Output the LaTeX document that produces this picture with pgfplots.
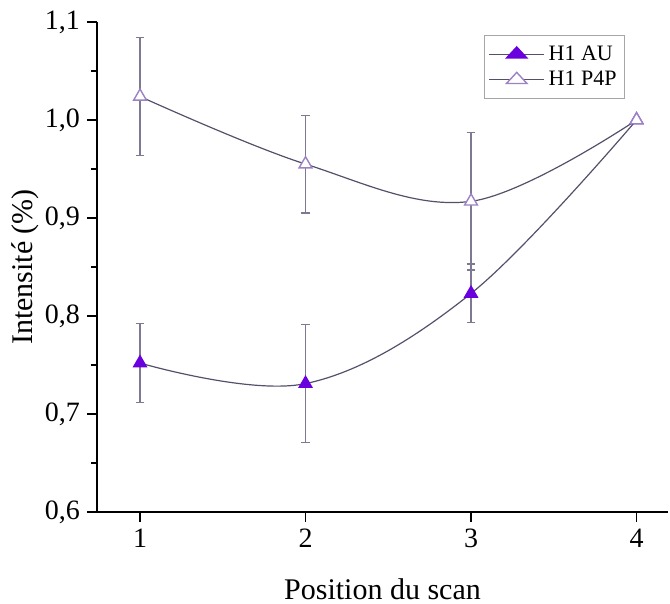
\documentclass[border=0pt]{standalone}
\usepackage{pgfplots}
\pgfplotsset{compat=1.18}
\usepackage{fontspec}
\setmainfont{Liberation Serif}
\definecolor{aucol}{HTML}{6A00DD}
\definecolor{p4pcol}{HTML}{9C82C4}
\definecolor{linecol}{HTML}{55506A}
\definecolor{errcol}{HTML}{7E7892}
\begin{document}
\begin{tikzpicture}
\begin{axis}[
  scale only axis,
  width=285.5pt, height=245pt,
  xmin=0.74, xmax=4.19,
  ymin=0.6, ymax=1.1,
  axis x line*=bottom, axis y line*=left,
  axis line style={line width=0.9pt, -},
  xtick={1,2,3,4},
  ytick={0.6,0.7,0.8,0.9,1.0,1.1},
  yticklabels={{0,6},{0,7},{0,8},{0,9},{1,0},{1,1}},
  minor ytick={0.65,0.75,0.85,0.95,1.05},
  tick align=outside,
  major tick length=5pt, minor tick length=3pt,
  tick style={line width=0.9pt, black},
  /pgf/number format/assume math mode=true,
  tick label style={font=\fontsize{14}{16}\selectfont},
  xlabel={Position du scan},
  ylabel={Intensité (\%)},
  label style={font=\fontsize{15}{18}\selectfont},
  xlabel style={yshift=-8.5pt},
  ylabel style={yshift=-4pt},
  legend style={at={(0.9247,0.9735)}, anchor=north east, draw=gray!70, line width=0.5pt,
    font=\fontsize{11}{13}\selectfont, row sep=0pt, inner xsep=2pt, inner ysep=3pt},
  legend cell align=left,
  legend image post style={xscale=1.6},
]
\coordinate (O) at (rel axis cs:0,0);
\addplot[color=linecol, line width=0.6pt, smooth, tension=0.6,
  mark=triangle*, mark size=3.7pt, mark options={solid, fill=aucol, draw=aucol},
  error bars/.cd, y dir=both, y explicit,
  error bar style={color=errcol, line width=0.6pt},
  error mark options={rotate=90, mark size=2.2pt, color=errcol, line width=0.6pt}]
  table[x=x, y=y, y error=e] {
x y e
1 0.752 0.040
2 0.731 0.060
3 0.823 0.030
4 1.000 0.000
};
\addlegendentry{H1 AU}
\addplot[color=linecol, line width=0.6pt, smooth, tension=0.6,
  mark=triangle*, mark size=3.7pt, mark options={solid, fill=white, draw=p4pcol, line width=0.7pt},
  error bars/.cd, y dir=both, y explicit,
  error bar style={color=errcol, line width=0.6pt},
  error mark options={rotate=90, mark size=2.2pt, color=errcol, line width=0.6pt}]
  table[x=x, y=y, y error=e] {
x y e
1 1.024 0.060
2 0.955 0.050
3 0.917 0.070
4 1.000 0.000
};
\addlegendentry{H1 P4P}
\end{axis}
\pgfresetboundingbox
\path[use as bounding box] ([shift={(-48.5pt,-46pt)}]O) rectangle ([shift={(286.5pt,256pt)}]O);
\end{tikzpicture}
\end{document}
